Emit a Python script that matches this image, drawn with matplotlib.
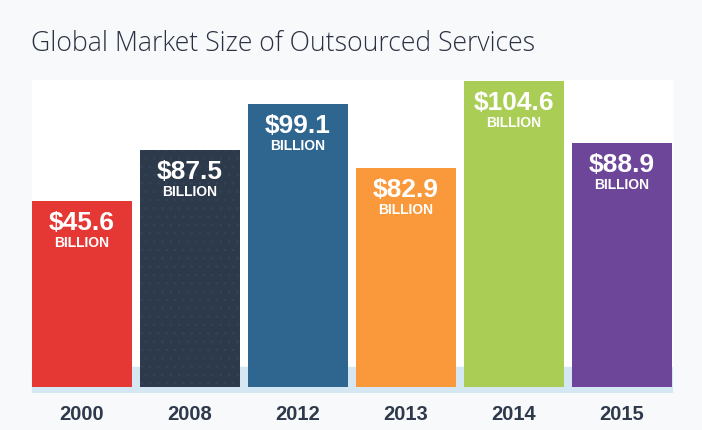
import matplotlib
matplotlib.use("Agg")
import matplotlib.pyplot as plt

years = ["2000", "2008", "2012", "2013", "2014", "2015"]
values = [45.6, 87.5, 99.1, 82.9, 104.6, 88.9]
# drawn bar heights (the infographic is not to scale)
bar_heights = [186, 237, 283, 219, 306, 244]
colors = ["#e53835", "#2d3a4b", "#2f668f", "#f9993b", "#a9cd55", "#6e4699"]

W, H = 702, 430
fig = plt.figure(figsize=(W / 100, H / 100), dpi=100, facecolor="#f8f9fb")

# axes placed in pixel terms: x 28..676, y 80..393
ax = fig.add_axes([28 / W, 1 - 393 / H, 648 / W, 313 / H])
ax.set_facecolor("none")
ax.set_xlim(-0.5, 5.5)
ax.set_ylim(-6, 307)

# white panel behind the bars and light blue floor band
ax.axvspan(-0.5 + 4 / 108, 5.5 - 4 / 108, color="white", zorder=0)
ax.axhspan(-6, 20, xmin=4 / 648, xmax=644 / 648, color="#d6e7f4", zorder=1)

plt.rcParams["hatch.linewidth"] = 0.5
x = range(len(years))
bars = ax.bar(x, bar_heights, width=100 / 108, color=colors, zorder=2, linewidth=0)
bars[1].set_hatch("..")
bars[1].set_edgecolor("#364457")

for i, (h, v) in enumerate(zip(bar_heights, values)):
    ax.annotate(f"${v}", (i, h), xytext=(0, -15.5), textcoords="offset points",
                ha="center", va="center", color="white", fontsize=19,
                fontweight="bold", family="Liberation Sans", zorder=3)
    ax.annotate("BILLION", (i, h), xytext=(0, -30.5), textcoords="offset points",
                ha="center", va="center", color="white", fontsize=10,
                fontweight="bold", family="Liberation Sans", zorder=3)

ax.set_xticks(list(x))
ax.set_xticklabels(years, fontsize=14.5, fontweight="bold", color="#2e3a4b",
                   family="Liberation Sans")
ax.tick_params(axis="x", length=0, pad=9)
ax.set_yticks([])
for s in ax.spines.values():
    s.set_visible(False)

fig.text(31 / W, 1 - 44 / H, "Global Market Size of Outsourced Services",
         fontsize=19.2, family="Open Sans", fontweight="light", color="#2a3142",
         ha="left", va="center")

fig.savefig("out.png", dpi=100, facecolor=fig.get_facecolor())
